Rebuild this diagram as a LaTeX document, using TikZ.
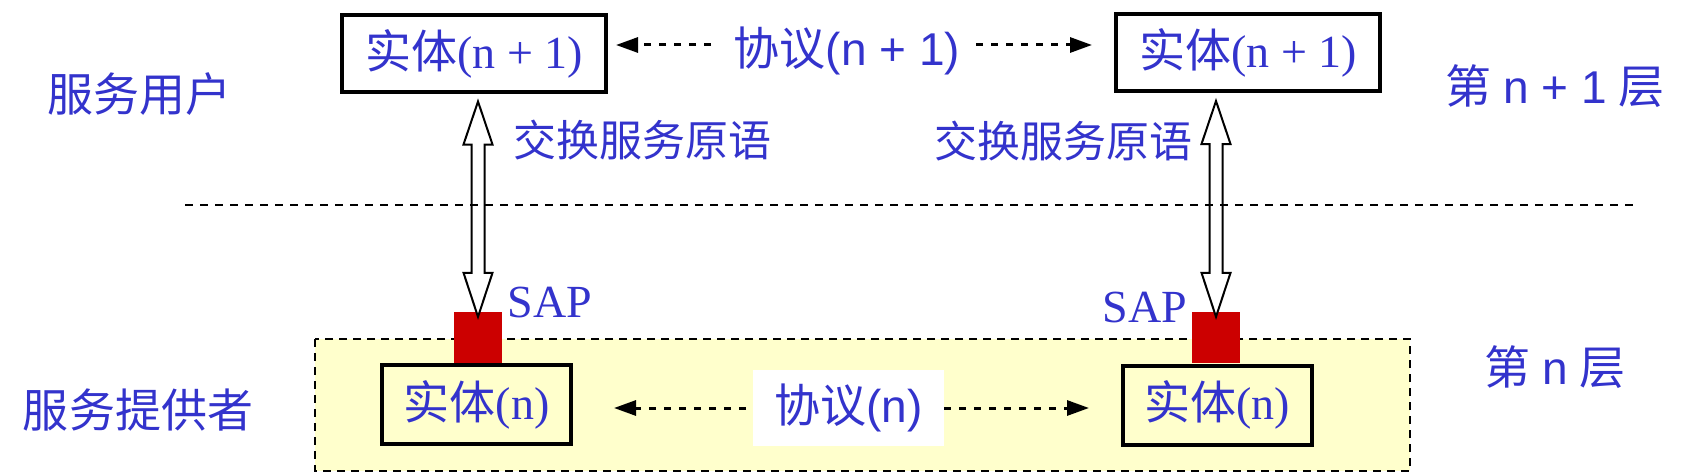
\documentclass[tikz,border=0pt]{standalone}
\usepackage{fontspec}
\setmainfont{Liberation Serif}
\newfontfamily\cjk{Noto Sans CJK SC}
\newfontfamily\lsans{Liberation Sans}
\usetikzlibrary{arrows.meta,calc}
\definecolor{txtblue}{RGB}{51,51,204}
\definecolor{layeryellow}{RGB}{255,255,204}
\definecolor{sapred}{RGB}{204,0,0}
\newcommand\dblarrow[2]{%
  \draw[dblarrowstyle] let \p1=($(#2.north)+(0,5)$), \p2=(#1.south), \p3=(\x1,\y2-7.5pt) in
    (\x1,\y3) -- (\x1+14.5pt,\y3-43pt) -- (\x1+6.5pt,\y3-43pt) -- (\x1+6.5pt,\y1+44pt)
    -- (\x1+14.5pt,\y1+44pt) -- (\x1,\y1) -- (\x1-14.5pt,\y1+44pt) -- (\x1-6.5pt,\y1+44pt)
    -- (\x1-6.5pt,\y3-43pt) -- (\x1-14.5pt,\y3-43pt) -- cycle;}
\begin{document}
\begin{tikzpicture}[x=1pt,y=-1pt,
  bigfont/.style={font=\fontsize{46}{50}\selectfont, text=txtblue},
  entbox/.style={draw=black, line width=4pt, inner sep=0pt, bigfont},
  lbl/.style={bigfont, inner sep=0pt},
  primlbl/.style={inner sep=0pt, text=txtblue, font=\fontsize{43}{48}\selectfont},
  proto/.style={line width=3pt, dash pattern=on 7pt off 8pt, -{Triangle[length=22pt,width=15pt]}},
  sepline/.style={line width=2pt, dash pattern=on 8pt off 7pt},
  layerbox/.style={fill=layeryellow, draw=black, line width=2pt, dash pattern=on 8pt off 6pt},
  sapbox/.style={fill=sapred, draw=none, inner sep=0pt, minimum width=48pt, minimum height=51pt},
  dblarrowstyle/.style={draw=black, fill=white, line width=2pt, line join=miter}
]
\useasboundingbox (0,0) rectangle (1688,476);

% layer n region
\draw[layerbox] (315,339) rectangle (1410,471);

% SAP squares
\node[sapbox] (sap1) at (478,337.5) {};
\node[sapbox] (sap2) at (1216,337.5) {};

% entities
\node[entbox, minimum width=264pt, minimum height=77pt] (e1l) at (474,53.5) {{\cjk 实体}(n + 1)};
\node[entbox, minimum width=264pt, minimum height=77pt] (e1r) at (1248,53) {{\cjk 实体}(n + 1)};
\node[entbox, fill=layeryellow, minimum width=189pt, minimum height=79pt] (e0l) at (476.5,404.5) {{\cjk 实体}(n)};
\node[entbox, fill=layeryellow, minimum width=189pt, minimum height=79pt] (e0r) at (1217,405) {{\cjk 实体}(n)};

% protocol labels
\node[lbl] (p1) at (847,51) {{\cjk 协议}{\lsans (n + 1)}};
\node[lbl, fill=white, minimum width=191pt, minimum height=76pt] (p0) at (848.5,408) {{\cjk 协议}{\lsans (n)}};

% protocol arrows
\coordinate (p1ls) at (711,45);
\coordinate (p1le) at (616,45);
\coordinate (p1rs) at (976,45);
\coordinate (p1re) at (1092,45);
\coordinate (p0ls) at (746,408);
\coordinate (p0le) at (614,408);
\coordinate (p0rs) at (944,408);
\coordinate (p0re) at (1089,408);
\draw[proto] (p1ls) -- (p1le);
\draw[proto] (p1rs) -- (p1re);
\draw[proto] (p0ls) -- (p0le);
\draw[proto] (p0rs) -- (p0re);

% service primitive arrows
\dblarrow{e1l}{sap1}
\dblarrow{e1r}{sap2}

% separator
\coordinate (sepl) at (185,205);
\coordinate (sepr) at (1638,205);
\draw[sepline] (sepl) -- (sepr);

% labels
\node[lbl] (user) at (139,94) {{\cjk 服务用户}};
\node[lbl] (prov) at (138,410) {{\cjk 服务提供者}};
\node[lbl] (lay1) at (1555,86) {{\cjk 第} {\lsans n + 1} {\cjk 层}};
\node[lbl] (lay0) at (1555,367) {{\cjk 第} {\lsans n} {\cjk 层}};
\node[primlbl] (prim1) at (642,140) {{\cjk 交换服务原语}};
\node[primlbl] (prim2) at (1063,141) {{\cjk 交换服务原语}};
\node[lbl, anchor=base] (saplbl1) at (550,317) {SAP};
\node[lbl, anchor=base] (saplbl2) at (1145,322) {SAP};
\end{tikzpicture}
\end{document}
